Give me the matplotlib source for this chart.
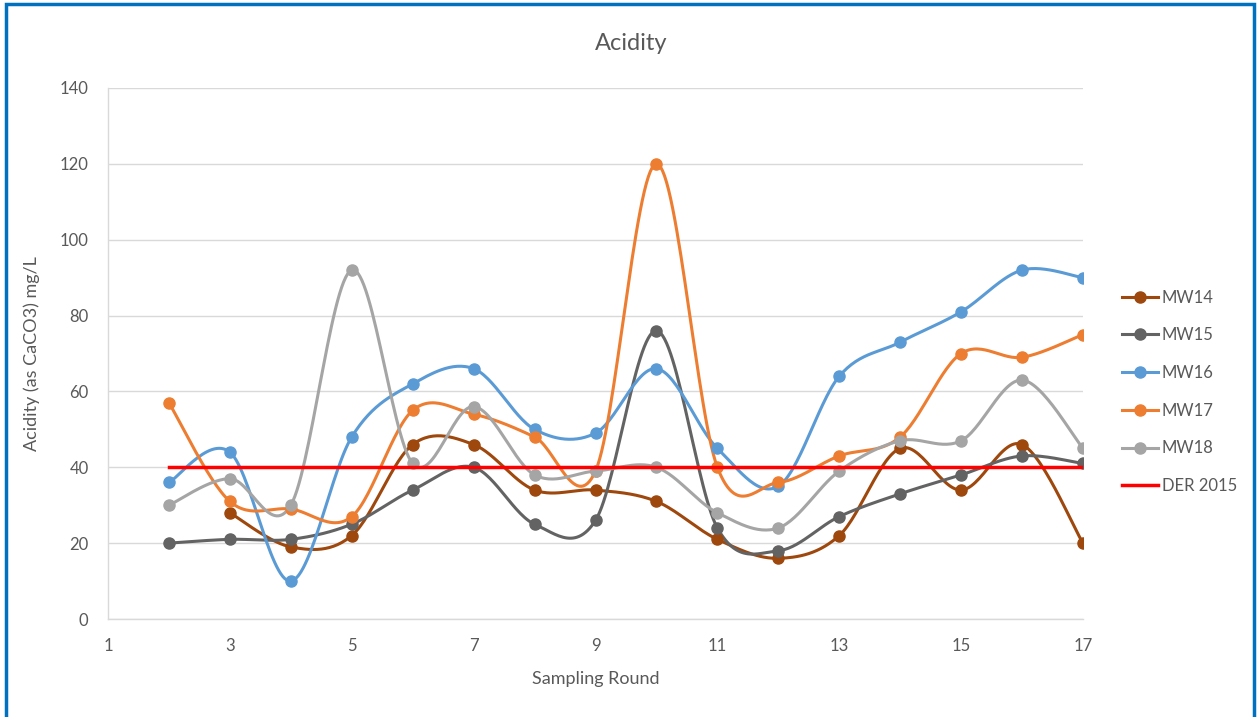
import numpy as np
import matplotlib
matplotlib.use("Agg")
import matplotlib.pyplot as plt
from matplotlib.patches import Rectangle
from matplotlib.lines import Line2D

# ---- data ----
rounds = [2, 3, 4, 5, 6, 7, 8, 9, 10, 11, 12, 13, 14, 15, 16, 17]
mw14 = [None, 28, 19, 22, 46, 46, 34, 34, 31, 21, 16, 22, 45, 34, 46, 20]
mw15 = [20, 21, 21, 25, 34, 40, 25, 26, 76, 24, 18, 27, 33, 38, 43, 41]
mw16 = [36, 44, 10, 48, 62, 66, 50, 49, 66, 45, 35, 64, 73, 81, 92, 90]
mw17 = [57, 31, 29, 27, 55, 54, 48, 39, 120, 40, 36, 43, 48, 70, 69, 75]
mw18 = [30, 37, 30, 92, 41, 56, 38, 39, 40, 28, 24, 39, 47, 47, 63, 45]
der2015 = [40] * len(rounds)

series_names = ["MW14", "MW15", "MW16", "MW17", "MW18"]
series_vals = [mw14, mw15, mw16, mw17, mw18]
series_colors = ["#9E480E", "#636363", "#5B9BD5", "#ED7D31", "#A5A5A5"]

x_ticks = [1, 3, 5, 7, 9, 11, 13, 15, 17]
y_ticks = [0, 20, 40, 60, 80, 100, 120, 140]

FONT = ["Lato", "DejaVu Sans"]
TXT = "#595959"
plt.rcParams["font.family"] = FONT


def smooth(xs, ys, n=30):
    """Catmull-Rom style smoothing (like Excel's smoothed line) for drawing."""
    pts = [(x, y) for x, y in zip(xs, ys) if y is not None]
    P = np.array(pts, dtype=float)
    if len(P) < 3:
        return P[:, 0], P[:, 1]
    out = []
    for i in range(len(P) - 1):
        p0 = P[i - 1] if i > 0 else P[i]
        p1 = P[i]
        p2 = P[i + 1]
        p3 = P[i + 2] if i + 2 < len(P) else P[i + 1]
        c1 = p1 + (p2 - p0) / 6.0
        c2 = p2 - (p3 - p1) / 6.0
        t = np.linspace(0, 1, n, endpoint=(i == len(P) - 2))[:, None]
        b = ((1 - t) ** 3) * p1 + 3 * ((1 - t) ** 2) * t * c1 + 3 * (1 - t) * t ** 2 * c2 + t ** 3 * p2
        out.append(b)
    B = np.vstack(out)
    return B[:, 0], B[:, 1]


fig = plt.figure(figsize=(12.58, 7.17), dpi=100)
ax = fig.add_axes([108 / 1258, 1 - 619 / 717, (1083 - 108) / 1258, (619 - 88) / 717])

for name, vals, col in zip(series_names, series_vals, series_colors):
    sx, sy = smooth(rounds, vals)
    ax.plot(sx, sy, color=col, lw=2.2, zorder=3, solid_capstyle="round")
    px = [x for x, v in zip(rounds, vals) if v is not None]
    py = [v for v in vals if v is not None]
    ax.plot(px, py, linestyle="none", marker="o", ms=8, color=col, zorder=4)

ax.plot(rounds, der2015, color="#FF0000", lw=2.5, zorder=5)

ax.set_xlim(1, 17)
ax.set_ylim(0, 140)
ax.set_xticks(x_ticks)
ax.set_yticks(y_ticks)
ax.tick_params(length=0, labelsize=12, labelcolor=TXT)
ax.tick_params(axis="x", pad=14)
ax.tick_params(axis="y", pad=14)
ax.grid(axis="y", color="#D9D9D9", lw=1)
ax.set_axisbelow(True)
for s in ["top", "right"]:
    ax.spines[s].set_visible(False)
for s in ["left", "bottom"]:
    ax.spines[s].set_color("#D9D9D9")
    ax.spines[s].set_linewidth(1)

ax.set_xlabel("Sampling Round", fontsize=13, color=TXT, labelpad=12)
ax.set_ylabel("Acidity (as CaCO3) mg/L", fontsize=13, color=TXT, labelpad=14)
fig.text(631 / 1258, 1 - 44 / 717, "Acidity", ha="center", va="center", fontsize=17, color=TXT)

handles = [Line2D([], [], color=c, lw=2.2, marker="o", ms=8) for c in series_colors]
handles.append(Line2D([], [], color="#FF0000", lw=2.5))
leg = fig.legend(handles, series_names + ["DER 2015"], loc="upper left",
                 bbox_to_anchor=(1115 / 1258, 1 - 283 / 717), frameon=False,
                 fontsize=12, labelcolor=TXT, handlelength=2.2, handletextpad=0.2,
                 labelspacing=1.3, borderaxespad=0)

fig.patches.append(Rectangle((6 / 1258, -0.02), (1254 - 6) / 1258, 1.02 - 4 / 717 + 0.0,
                             transform=fig.transFigure, fill=False,
                             edgecolor="#0070C0", lw=2.5, zorder=10))

fig.savefig("out.png", dpi=100)
